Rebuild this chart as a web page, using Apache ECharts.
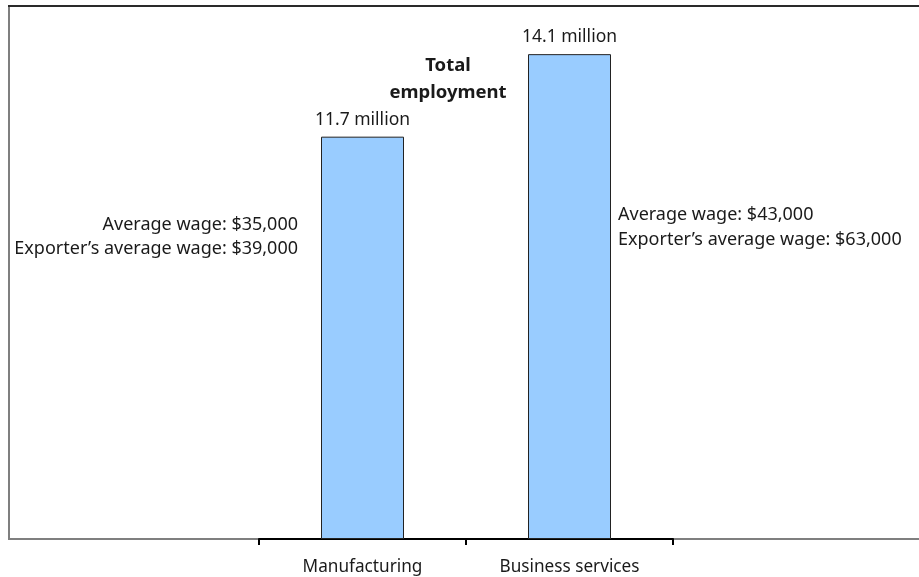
<!DOCTYPE html>
<html>
<head>
<meta charset="utf-8">
<script src="https://cdn.jsdelivr.net/npm/echarts@6/dist/echarts.min.js"></script>
<style>
  html, body { margin: 0; padding: 0; background: #fff; }
  #chart { width: 919px; height: 577px; }
</style>
</head>
<body>
<div id="chart"></div>
<script>
// Sectors and their employment (millions of workers)
const categories = ['Manufacturing', 'Business services'];
const employment = [11.7, 14.1];
// Wage notes shown beside each bar
const averageWage = ['$35,000', '$43,000'];
const exporterWage = ['$39,000', '$63,000'];

const FONT = '"Noto Sans", "DejaVu Sans", sans-serif';
const TEXT = '#1a1a1a';

const chart = echarts.init(document.getElementById('chart'));

// Wage note placement beside each bar (left of the first, right of the second)
const wageLabelStyle = [
  { position: [-23, 100], align: 'right' },
  { position: [90, 173], align: 'left' }
];

const wageData = employment.map((v, i) => ({
  value: v,
  label: {
    show: true,
    position: wageLabelStyle[i].position,
    align: wageLabelStyle[i].align,
    verticalAlign: 'middle',
    formatter: 'Average wage: ' + averageWage[i] + '\nExporter\u2019s average wage: ' + exporterWage[i]
  }
}));

chart.setOption({
  animation: false,
  backgroundColor: '#fff',
  textStyle: { fontFamily: FONT },
  title: {
    text: 'Total\nemployment',
    left: 443,
    top: 47,
    textAlign: 'center',
    textStyle: { fontFamily: FONT, fontSize: 18.5, fontWeight: 'bold', color: TEXT, lineHeight: 27 }
  },
  grid: { left: 259, right: 246, top: 6, bottom: 38 },
  xAxis: {
    type: 'category',
    data: categories,
    boundaryGap: true,
    axisLine: { show: true, lineStyle: { color: '#000', width: 2 } },
    axisTick: { show: true, length: 6, lineStyle: { color: '#000', width: 2 } },
    axisLabel: { margin: 20, fontSize: 17.2, color: TEXT, fontFamily: FONT }
  },
  yAxis: {
    type: 'value',
    min: 0,
    max: 15.5,
    show: false,
    splitLine: { show: false }
  },
  graphic: [
    // chart frame: grey left and bottom rules, dark top rule
    { type: 'line', silent: true, z: 0, shape: { x1: 9, y1: 6, x2: 9, y2: 539 }, style: { stroke: '#7f7f7f', lineWidth: 2 } },
    { type: 'line', silent: true, z: 0, shape: { x1: 8, y1: 539, x2: 919, y2: 539 }, style: { stroke: '#7f7f7f', lineWidth: 2 } },
    { type: 'line', silent: true, z: 0, shape: { x1: 8, y1: 6, x2: 919, y2: 6 }, style: { stroke: '#2a2a2a', lineWidth: 2 } }
  ],
  series: [
    {
      type: 'bar',
      data: employment,
      barWidth: 83,
      z: 3,
      itemStyle: { color: '#99ccff', borderColor: '#222', borderWidth: 1 },
      label: {
        show: true,
        position: 'top',
        distance: 8,
        formatter: '{c} million',
        fontSize: 17.5,
        color: TEXT,
        fontFamily: FONT
      }
    },
    {
      type: 'bar',
      data: wageData,
      barWidth: 83,
      barGap: '-100%',
      z: 2,
      itemStyle: { color: 'rgba(0,0,0,0)' },
      label: { fontSize: 18, color: TEXT, fontFamily: FONT, lineHeight: 24.5 }
    }
  ]
});
</script>
</body>
</html>
